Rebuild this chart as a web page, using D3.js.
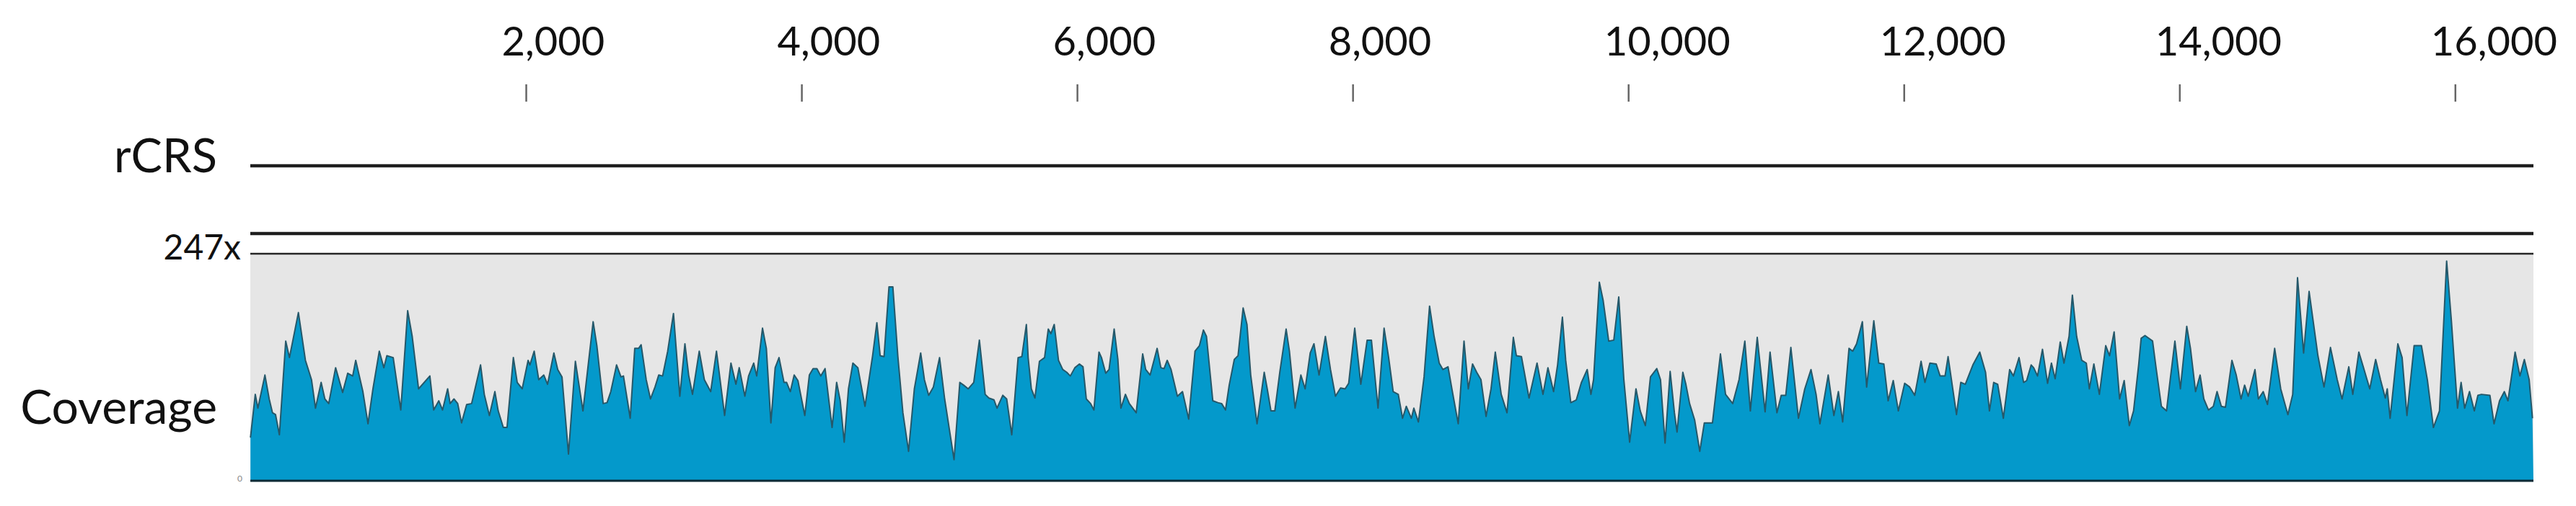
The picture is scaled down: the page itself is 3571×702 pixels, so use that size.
<!DOCTYPE html>
<html>
<head>
<meta charset="utf-8">
<script src="https://cdn.jsdelivr.net/npm/d3@7"></script>
<style>
  html, body { margin: 0; padding: 0; background: #ffffff; }
  svg { display: block; }
  text { font-family: Lato, "Open Sans", sans-serif; }
</style>
</head>
<body>
<svg id="chart" width="3571" height="702"></svg>
<script>
// ---------- data ----------
const genomeLength = 16569;
const maxCoverage = 247;
const tickValues = [2000, 4000, 6000, 8000, 10000, 12000, 14000, 16000];
const trackLabels = ["rCRS", "Coverage"];
const maxLabel = "247x";
const zeroLabel = "0";

// coverage profile (position in bp, depth)
const positions = [
1,36,55,106,137,161,183,211,257,284,349,400,444,473,514,541,569,619,670,707,743,765,817,854,890,936,969,991,1037,1092,1142,1175,1221,1303,1331,1368,1395,1432,1450,1478,1505,1533,1570,1606,1671,1698,1735,1775,1799,1836,1863,1909,1937,1973,2016,2029,2060,2093,2130,2157,2203,2231,2262,2309,2359,2414,2488,2515,2561,2589,2616,2658,2690,2708,2757,2790,2818,2836,
2873,2904,2937,2964,2992,3029,3071,3117,3154,3181,3209,3258,3295,3341,3383,3442,3488,3524,3548,3589,3616,3653,3675,3717,3745,3778,3809,3837,3873,3892,3919,3947,3974,4024,4057,4084,4112,4140,4171,4222,4255,4281,4310,4341,4373,4409,4461,4516,4547,4571,4599,4635,4663,4699,4736,4777,4819,4865,4892,4923,4957,5002,5039,5107,5149,5177,5210,5250,5291,5333,5360,5397,5419,5461,5489,5526,5572,5599,5632,
5645,5668,5694,5727,5764,5791,5810,5834,5865,5896,5925,5951,5984,6017,6043,6067,6098,6122,6159,6177,6208,6232,6269,6296,6318,6351,6379,6429,6476,6498,6530,6581,6608,6631,6654,6682,6728,6765,6810,6856,6888,6917,6939,6985,7022,7049,7077,7104,7141,7168,7205,7233,7260,7306,7358,7380,7407,7435,7471,7517,7541,7582,7624,7655,7692,7719,7756,7802,7839,7875,7912,7945,7971,8015,8059,8105,8136,8184,8228,8261,8294,8331,8362,8389,8426,
8444,8477,8518,8558,8591,8628,8655,8692,8720,8766,8808,8839,8870,8900,8931,8968,9004,9035,9078,9120,9166,9188,9225,9280,9338,9381,9417,9458,9487,9522,9546,9583,9623,9660,9702,9729,9748,9790,9818,9858,9895,9931,9968,10010,10056,10087,10124,10161,10207,10234,10267,10304,10335,10354,10396,10418,10445,10482,10519,10552,10611,10669,10706,10758,10804,10846,10886,10936,10993,11029,11079,11110,11143,11180,11235,11281,
11326,11363,11391,11451,11492,11525,11556,11602,11629,11657,11699,11730,11782,11818,11855,11886,11923,11960,12006,12042,12079,12125,12153,12189,12235,12263,12299,12321,12382,12413,12446,12501,12551,12593,12621,12652,12681,12722,12768,12795,12836,12869,12891,12924,12942,12970,13006,13043,13071,13098,13135,13162,13199,13223,13254,13291,13324,13346,13379,13419,13465,13493,13526,13566,13599,13636,13667,13704,13722,13750,13805,13832,13869,13906,13933,13967,14007,14053,14080,14117,14150,
14177,14211,14246,14273,14304,14334,14381,14412,14447,14473,14499,14548,14573,14608,14639,14691,14735,14787,14822,14857,14901,14941,15005,15049,15096,15145,15180,15229,15258,15302,15340,15381,15424,15459,15494,15508,15529,15585,15616,15651,15703,15756,15799,15843,15887,15939,15974,16018,16044,16070,16105,16140,16166,16192,16253,16283,16323,16358,16384,16436,16471,16503,16538,16562,16569
];
const coverage = [
47,94,79,115,89,74,72,50,152,134,183,131,110,79,107,89,84,123,96,117,114,131,97,62,100,141,123,136,134,77,185,157,100,114,77,87,77,100,84,89,84,63,83,84,126,94,71,97,76,58,58,134,107,100,131,126,141,110,115,105,139,121,113,29,130,76,173,147,84,85,97,126,113,114,68,144,144,148,
110,89,102,115,114,141,182,92,149,115,94,141,110,97,141,71,128,105,123,92,114,128,114,166,144,63,123,134,107,107,97,115,109,71,115,122,122,114,122,58,107,87,42,100,128,123,81,136,172,136,135,211,211,136,74,32,100,139,110,93,102,134,89,23,107,104,100,107,153,94,90,88,79,93,89,50,134,135,170,
134,100,90,130,134,165,160,170,131,121,118,114,123,127,124,89,84,77,140,134,117,121,165,132,79,94,84,74,138,121,115,144,123,122,131,121,92,97,67,141,147,164,157,87,85,84,77,104,132,136,188,170,115,62,118,100,76,76,118,165,141,79,115,100,139,149,115,157,121,92,101,100,106,166,105,153,153,79,166,134,97,94,68,81,68,
79,64,113,190,157,128,121,124,100,62,152,100,127,118,110,70,100,140,94,74,156,136,135,90,128,94,123,97,126,178,131,85,88,107,121,94,110,216,196,152,153,200,110,42,100,76,60,113,122,110,41,119,74,53,118,105,84,66,32,63,63,138,94,84,110,152,76,156,75,140,74,93,93,145,68,100,
121,94,62,115,71,97,64,144,141,149,173,102,174,128,127,87,109,76,106,102,93,130,107,128,127,114,114,135,72,107,105,126,140,118,76,107,105,68,121,114,134,107,109,126,123,114,143,106,128,111,151,128,157,202,157,131,128,100,127,94,147,136,162,89,109,60,76,126,155,158,152,121,81,76,110,152,100,168,144,97,115,
89,77,81,97,81,80,131,115,89,104,92,121,89,97,83,144,100,72,94,221,139,206,136,102,145,110,89,124,94,140,121,100,132,110,90,100,68,149,134,71,147,147,110,58,76,239,173,79,107,79,97,76,93,94,93,62,87,97,87,140,114,132,110,68,0
];

// ---------- layout ----------
const svg = d3.select("#chart");
const plotLeft = 347, plotRight = 3512;
const rcrsY = 230, trackTopY = 324, panelTopY = 352, baseY = 667;

const x = d3.scaleLinear().domain([0, genomeLength]).range([plotLeft, plotRight]);
const y = d3.scaleLinear().domain([0, maxCoverage]).range([baseY, panelTopY]);

const data = positions.map((p, i) => ({ pos: p, cov: coverage[i] }));

// axis on top
const axis = d3.axisTop(x)
  .tickValues(tickValues)
  .tickSize(24)
  .tickFormat(d3.format(","));
const gAxis = svg.append("g")
  .attr("transform", `translate(0,${141})`)
  .call(axis);
gAxis.select(".domain").remove();
gAxis.selectAll(".tick line").attr("stroke", "#666").attr("stroke-width", 2.5);
gAxis.selectAll(".tick text")
  .attr("fill", "#111")
  .attr("font-size", 56)
  .attr("font-family", "Lato, 'Open Sans', sans-serif")
  .attr("text-anchor", "start")
  .attr("x", -34)
  .attr("y", -64)
  .attr("dy", 0);

// rCRS reference track
svg.append("line")
  .attr("x1", x(0)).attr("x2", x(genomeLength))
  .attr("y1", rcrsY).attr("y2", rcrsY)
  .attr("stroke", "#1e1e1e").attr("stroke-width", 4.5);

// coverage track frame
svg.append("line")
  .attr("x1", x(0)).attr("x2", x(genomeLength))
  .attr("y1", trackTopY).attr("y2", trackTopY)
  .attr("stroke", "#1e1e1e").attr("stroke-width", 4.5);

svg.append("rect")
  .attr("x", x(0)).attr("y", y(maxCoverage))
  .attr("width", x(genomeLength) - x(0))
  .attr("height", y(0) - y(maxCoverage))
  .attr("fill", "#e6e6e6");

svg.append("line")
  .attr("x1", x(0)).attr("x2", x(genomeLength))
  .attr("y1", y(maxCoverage)).attr("y2", y(maxCoverage))
  .attr("stroke", "#262626").attr("stroke-width", 2.5);

// coverage area
const area = d3.area()
  .x(d => x(d.pos))
  .y0(y(0))
  .y1(d => y(d.cov));
svg.append("path")
  .datum(data)
  .attr("d", area)
  .attr("fill", "#0499cb");

const line = d3.line()
  .x(d => x(d.pos))
  .y(d => y(d.cov));
svg.append("path")
  .datum(data.slice(0, data.length - 1))
  .attr("d", line)
  .attr("fill", "none")
  .attr("stroke", "#25586a")
  .attr("stroke-width", 2)
  .attr("stroke-linejoin", "round");

// baseline
svg.append("line")
  .attr("x1", x(0)).attr("x2", x(genomeLength))
  .attr("y1", y(0)).attr("y2", y(0))
  .attr("stroke", "#0e2a35").attr("stroke-width", 3);

// labels
svg.append("text")
  .attr("x", 301).attr("y", 239)
  .attr("text-anchor", "end")
  .attr("font-size", 65)
  .attr("fill", "#111")
  .text(trackLabels[0]);

svg.append("text")
  .attr("x", 334).attr("y", 360)
  .attr("text-anchor", "end")
  .attr("font-size", 48)
  .attr("fill", "#111")
  .text(maxLabel);

svg.append("text")
  .attr("x", 301).attr("y", 588)
  .attr("text-anchor", "end")
  .attr("font-size", 66)
  .attr("fill", "#111")
  .text(trackLabels[1]);

svg.append("text")
  .attr("x", 336).attr("y", 668)
  .attr("text-anchor", "end")
  .attr("font-size", 12)
  .attr("fill", "#888")
  .text(zeroLabel);
</script>
</body>
</html>
